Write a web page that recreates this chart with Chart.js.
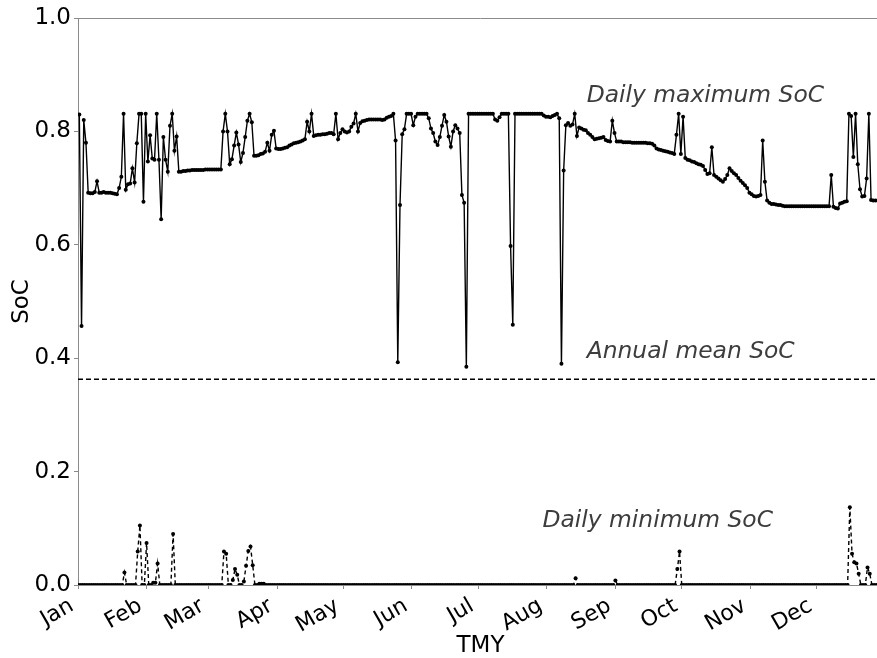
<!DOCTYPE html>
<html>
<head>
<meta charset="utf-8">
<script src="https://cdn.jsdelivr.net/npm/chart.js@4/dist/chart.umd.min.js"></script>
<style>
  html, body { margin: 0; padding: 0; background: #ffffff; overflow: hidden; }
  canvas { display: block; }
</style>
</head>
<body>
<canvas id="soc" width="887" height="658"></canvas>
<script>
// Month labels and the day-of-year each month starts on
const monthNames = ['Jan', 'Feb', 'Mar', 'Apr', 'May', 'Jun', 'Jul', 'Aug', 'Sep', 'Oct', 'Nov', 'Dec'];
const monthStartDays = [0, 31, 59, 90, 120, 151, 181, 212, 243, 273, 304, 334];
const yTicks = [0.0, 0.2, 0.4, 0.6, 0.8, 1.0];

// Daily maximum state of charge, day 0 .. 364
const dailyMaxSoc = [
  0.830, 0.457, 0.820, 0.780, 0.692, 0.691, 0.691, 0.693, 0.712, 0.692,
  0.692, 0.693, 0.692, 0.692, 0.692, 0.691, 0.690, 0.689, 0.700, 0.720,
  0.831, 0.697, 0.707, 0.708, 0.735, 0.710, 0.779, 0.831, 0.831, 0.676,
  0.831, 0.747, 0.793, 0.752, 0.750, 0.831, 0.750, 0.645, 0.790, 0.750,
  0.729, 0.810, 0.831, 0.766, 0.791, 0.729, 0.729, 0.730, 0.730, 0.731,
  0.731, 0.732, 0.732, 0.732, 0.732, 0.732, 0.732, 0.733, 0.733, 0.733,
  0.733, 0.733, 0.733, 0.733, 0.733, 0.800, 0.831, 0.800, 0.742, 0.751,
  0.775, 0.798, 0.777, 0.746, 0.762, 0.790, 0.819, 0.831, 0.816, 0.757,
  0.757, 0.758, 0.760, 0.761, 0.764, 0.780, 0.766, 0.794, 0.801, 0.770,
  0.769, 0.769, 0.770, 0.771, 0.772, 0.775, 0.777, 0.779, 0.780, 0.781,
  0.782, 0.784, 0.786, 0.817, 0.800, 0.831, 0.792, 0.793, 0.794, 0.794,
  0.795, 0.795, 0.796, 0.797, 0.797, 0.795, 0.831, 0.786, 0.797, 0.804,
  0.800, 0.798, 0.800, 0.808, 0.814, 0.831, 0.800, 0.815, 0.818, 0.819,
  0.820, 0.821, 0.821, 0.821, 0.821, 0.821, 0.821, 0.820, 0.821, 0.824,
  0.826, 0.827, 0.831, 0.784, 0.393, 0.670, 0.795, 0.804, 0.831, 0.831,
  0.831, 0.811, 0.826, 0.831, 0.831, 0.831, 0.831, 0.831, 0.823, 0.805,
  0.797, 0.782, 0.776, 0.790, 0.810, 0.829, 0.817, 0.791, 0.773, 0.800,
  0.811, 0.805, 0.797, 0.688, 0.674, 0.385, 0.831, 0.831, 0.831, 0.831,
  0.831, 0.831, 0.831, 0.831, 0.831, 0.831, 0.831, 0.831, 0.821, 0.819,
  0.825, 0.831, 0.831, 0.831, 0.831, 0.598, 0.459, 0.831, 0.831, 0.831,
  0.831, 0.831, 0.831, 0.831, 0.831, 0.831, 0.831, 0.831, 0.831, 0.831,
  0.828, 0.826, 0.826, 0.825, 0.827, 0.829, 0.831, 0.823, 0.390, 0.731,
  0.811, 0.815, 0.810, 0.812, 0.831, 0.792, 0.807, 0.805, 0.803, 0.802,
  0.797, 0.794, 0.790, 0.786, 0.787, 0.788, 0.789, 0.790, 0.785, 0.783,
  0.782, 0.819, 0.797, 0.782, 0.782, 0.782, 0.781, 0.781, 0.781, 0.781,
  0.780, 0.780, 0.780, 0.780, 0.780, 0.780, 0.780, 0.779, 0.779, 0.778,
  0.775, 0.770, 0.768, 0.767, 0.766, 0.765, 0.764, 0.763, 0.762, 0.760,
  0.794, 0.831, 0.760, 0.826, 0.753, 0.750, 0.749, 0.747, 0.746, 0.744,
  0.742, 0.741, 0.739, 0.732, 0.725, 0.726, 0.772, 0.723, 0.720, 0.717,
  0.714, 0.711, 0.716, 0.723, 0.735, 0.730, 0.726, 0.723, 0.718, 0.713,
  0.709, 0.705, 0.700, 0.692, 0.689, 0.686, 0.685, 0.686, 0.688, 0.784,
  0.711, 0.678, 0.674, 0.672, 0.672, 0.671, 0.670, 0.670, 0.669, 0.668,
  0.668, 0.668, 0.668, 0.668, 0.668, 0.668, 0.668, 0.668, 0.668, 0.668,
  0.668, 0.668, 0.668, 0.668, 0.668, 0.668, 0.668, 0.668, 0.668, 0.668,
  0.723, 0.667, 0.665, 0.664, 0.673, 0.674, 0.676, 0.677, 0.831, 0.827,
  0.755, 0.831, 0.742, 0.698, 0.685, 0.686, 0.717, 0.831, 0.679, 0.678,
  0.678, 0.678, 0.678, 0.678, 0.678
];

// Daily minimum state of charge, day 0 .. 364
const dailyMinSoc = [
  0, 0, 0, 0, 0, 0, 0, 0, 0, 0,
  0, 0, 0, 0, 0, 0, 0, 0, 0, 0,
  0, 0.022, 0, 0, 0, 0, 0, 0.059, 0.105, 0,
  0, 0.074, 0, 0, 0.004, 0.004, 0.038, 0, 0, 0,
  0, 0, 0, 0.090, 0, 0, 0, 0, 0, 0,
  0, 0, 0, 0, 0, 0, 0, 0, 0, 0,
  0, 0, 0, 0, 0, 0, 0.059, 0.055, 0, 0,
  0.009, 0.028, 0.018, 0, 0, 0.006, 0.034, 0.060, 0.068, 0.035,
  0, 0, 0.002, 0.002, 0.002, 0, 0, 0, 0, 0,
  0, 0, 0, 0, 0, 0, 0, 0, 0, 0,
  0, 0, 0, 0, 0, 0, 0, 0, 0, 0,
  0, 0, 0, 0, 0, 0, 0, 0, 0, 0,
  0, 0, 0, 0, 0, 0, 0, 0, 0, 0,
  0, 0, 0, 0, 0, 0, 0, 0, 0, 0,
  0, 0, 0, 0, 0, 0, 0, 0, 0, 0,
  0, 0, 0, 0, 0, 0, 0, 0, 0, 0,
  0, 0, 0, 0, 0, 0, 0, 0, 0, 0,
  0, 0, 0, 0, 0, 0, 0, 0, 0, 0,
  0, 0, 0, 0, 0, 0, 0, 0, 0, 0,
  0, 0, 0, 0, 0, 0, 0, 0, 0, 0,
  0, 0, 0, 0, 0, 0, 0, 0, 0, 0,
  0, 0, 0, 0, 0, 0, 0, 0, 0, 0,
  0, 0, 0, 0, 0, 0.012, 0, 0, 0, 0,
  0, 0, 0, 0, 0, 0, 0, 0, 0, 0,
  0, 0, 0, 0.008, 0, 0, 0, 0, 0, 0,
  0, 0, 0, 0, 0, 0, 0, 0, 0, 0,
  0, 0, 0, 0, 0, 0, 0, 0, 0, 0,
  0, 0.028, 0.059, 0, 0, 0, 0, 0, 0, 0,
  0, 0, 0, 0, 0, 0, 0, 0, 0, 0,
  0, 0, 0, 0, 0, 0, 0, 0, 0, 0,
  0, 0, 0, 0, 0, 0, 0, 0, 0, 0,
  0, 0, 0, 0, 0, 0, 0, 0, 0, 0,
  0, 0, 0, 0, 0, 0, 0, 0, 0, 0,
  0, 0, 0, 0, 0, 0, 0, 0, 0, 0,
  0, 0, 0, 0, 0, 0, 0, 0, 0, 0.137,
  0.055, 0.040, 0.038, 0.020, 0, 0, 0, 0.031, 0.020, 0,
  0, 0, 0, 0, 0
];

// Annual mean state of charge
const annualMeanSoc = 0.363;
const firstDay = 0;
const lastDay = 364;

// The daily maximum is reached in the afternoon; its sample sits at that time of day
const maxTimeOfDay = 0.6;

// In-plot captions: text, anchored at (day, SoC)
const captionTexts = ['Daily maximum SoC', 'Annual mean SoC', 'Daily minimum SoC'];
const captionAnchors = [[230, 0.862], [230, 0.411], [210, 0.113]];

const FONT = "'DejaVu Sans', 'Liberation Sans', sans-serif";
const SPINE = '#8a8a8a';

const toPoints = (arr, shift) => arr.map((v, i) => ({ x: i + shift, y: v }));

// Upper frame line across the plotting area
const topFrame = {
  id: 'topFrame',
  afterDraw(chart) {
    const { ctx, chartArea } = chart;
    ctx.save();
    ctx.strokeStyle = SPINE;
    ctx.lineWidth = 1;
    ctx.beginPath();
    ctx.moveTo(chartArea.left, chartArea.top + 0.5);
    ctx.lineTo(chartArea.right, chartArea.top + 0.5);
    ctx.stroke();
    ctx.restore();
  }
};

// Italic captions next to each curve
const captions = {
  id: 'captions',
  afterDatasetsDraw(chart) {
    const { ctx, scales } = chart;
    ctx.save();
    ctx.font = 'italic 23.4px ' + FONT;
    ctx.fillStyle = '#3d3d3d';
    ctx.textAlign = 'left';
    ctx.textBaseline = 'middle';
    captionTexts.forEach((t, i) => {
      const [d, s] = captionAnchors[i];
      ctx.fillText(t, scales.x.getPixelForValue(d), scales.y.getPixelForValue(s));
    });
    ctx.restore();
  }
};

new Chart(document.getElementById('soc').getContext('2d'), {
  type: 'line',
  data: {
    datasets: [
      {
        label: 'Daily maximum SoC',
        data: toPoints(dailyMaxSoc, maxTimeOfDay),
        borderColor: '#000',
        backgroundColor: '#000',
        borderWidth: 1.4,
        pointRadius: 2,
        pointBorderWidth: 0,
        pointBackgroundColor: '#000',
        tension: 0
      },
      {
        label: 'Daily minimum SoC',
        data: toPoints(dailyMinSoc, 0),
        borderColor: '#000',
        backgroundColor: '#000',
        borderWidth: 1.4,
        borderDash: [4, 3],
        pointRadius: 2,
        pointBorderWidth: 0,
        pointBackgroundColor: '#000',
        tension: 0
      },
      {
        label: 'Annual mean SoC',
        data: [{ x: firstDay, y: annualMeanSoc }, { x: lastDay, y: annualMeanSoc }],
        borderColor: '#000',
        borderWidth: 1.4,
        borderDash: [5, 3],
        pointRadius: 0,
        tension: 0
      }
    ]
  },
  options: {
    responsive: false,
    animation: false,
    devicePixelRatio: 1,
    layout: { padding: { top: 18, right: 0, left: 0, bottom: 0 } },
    plugins: { legend: { display: false }, tooltip: { enabled: false } },
    scales: {
      x: {
        type: 'linear',
        min: firstDay,
        max: lastDay,
        afterBuildTicks: s => { s.ticks = monthStartDays.map(v => ({ value: v })); },
        afterFit: s => { s.height = 73; s.paddingLeft = 0; s.paddingRight = 0; },
        ticks: {
          autoSkip: false,
          minRotation: 30,
          maxRotation: 30,
          padding: 4,
          labelOffset: -6,
          color: '#000',
          font: { family: FONT, size: 22 },
          callback: (v, i) => monthNames[i]
        },
        grid: { drawOnChartArea: false, drawTicks: true, tickLength: 4, color: SPINE },
        border: { color: SPINE, width: 1 },
        title: {
          display: true,
          text: 'TMY',
          color: '#000',
          font: { family: FONT, size: 23, lineHeight: 1.0 },
          padding: { top: 0, bottom: 0 }
        }
      },
      y: {
        min: 0,
        max: 1,
        afterBuildTicks: s => { s.ticks = yTicks.map(v => ({ value: v })); },
        afterFit: s => { s.width = 78; },
        ticks: {
          padding: 3,
          color: '#000',
          font: { family: FONT, size: 23 },
          callback: v => Number(v).toFixed(1)
        },
        grid: { drawOnChartArea: false, drawTicks: true, tickLength: 4, color: SPINE },
        border: { color: SPINE, width: 1 },
        title: {
          display: true,
          text: 'SoC',
          color: '#000',
          font: { family: FONT, size: 23, lineHeight: 1.0 },
          padding: { top: 11, bottom: 0 }
        }
      }
    }
  },
  plugins: [topFrame, captions]
});
</script>
</body>
</html>
